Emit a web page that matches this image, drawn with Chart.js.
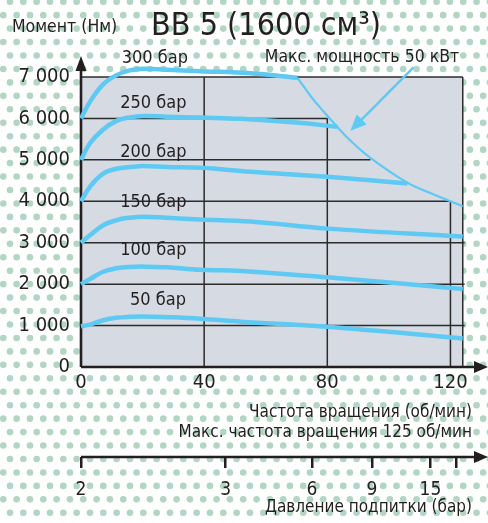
<!DOCTYPE html>
<html>
<head>
<meta charset="utf-8">
<script src="https://cdn.jsdelivr.net/npm/chart.js@4.4.1/dist/chart.umd.min.js"></script>
<style>
  html, body { margin: 0; padding: 0; background: #fff; }
  #wrap { width: 488px; height: 523px; }
</style>
</head>
<body>
<div id="wrap"><canvas id="chart"></canvas></div>
<script>
const FONT = '"Liberation Sans Narrow", "DejaVu Sans Condensed", "Roboto Condensed", Roboto, sans-serif';
const INK = '#231f20';
const CURVE = '#5ecaf3';

// torque (Nm) against speed (rpm), one pair per charge pressure
const pressureLabels = ['300 бар', '250 бар', '200 бар', '150 бар', '100 бар', '50 бар'];
const speed300 = [0, 2.9, 7.2, 11.5, 15.8, 20.2, 27.8, 38.8, 55, 70.3];
const torque300 = [6000, 6400, 6820, 7045, 7160, 7200, 7175, 7140, 7090, 6980];
const speed250 = [0, 2.9, 7.2, 11.5, 15.8, 20.2, 27.8, 38.8, 52, 70, 83.2];
const torque250 = [5000, 5400, 5733, 5942, 6025, 6058, 6042, 6020, 5990, 5900, 5800];
const speed200 = [0, 2.9, 7.2, 11.5, 15.8, 20.2, 27.8, 38.8, 55, 80, 106];
const torque200 = [4000, 4350, 4667, 4786, 4826, 4850, 4826, 4810, 4715, 4590, 4430];
const speed150 = [0, 2.9, 7.2, 11.5, 15.8, 20.2, 27.8, 38.8, 55, 80, 124];
const torque150 = [3000, 3178, 3422, 3544, 3603, 3627, 3603, 3560, 3510, 3340, 3150];
const speed100 = [0, 2.9, 7.2, 11.5, 15.8, 20.2, 27.8, 38.8, 52, 80, 124];
const torque100 = [2000, 2122, 2300, 2383, 2415, 2423, 2408, 2345, 2320, 2165, 1880];
const speed50 = [0, 2.9, 7.2, 11.5, 15.8, 20.2, 27.8, 38.8, 52, 80, 124];
const torque50 = [985, 1024, 1129, 1188, 1212, 1220, 1203, 1165, 1095, 970, 690];
// max power 50 kW
const speedLimit = [70.3, 75, 79, 83.2, 87, 94, 106, 114, 120, 124];
const torqueLimit = [6980, 6500, 6150, 5800, 5500, 5050, 4450, 4180, 4000, 3880];

const speedTicks = [0, 40, 80, 120];
const torqueTicks = [0, 1000, 2000, 3000, 4000, 5000, 6000, 7000];
const boostSpeeds = [0, 47, 75, 94.5, 113.5, 122];
const boostLabels = ['2', '3', '6', '9', '15', ''];
const SPEED_MAX = 124;

const toPoints = (xs, ys) => xs.map((v, i) => ({x: v, y: ys[i]}));

const curves = [
  toPoints(speed300, torque300),
  toPoints(speed250, torque250),
  toPoints(speed200, torque200),
  toPoints(speed150, torque150),
  toPoints(speed100, torque100),
  toPoints(speed50, torque50),
];

const datasets = curves.map((pts, i) => ({
  label: pressureLabels[i],
  data: pts,
  borderColor: CURVE,
  borderWidth: 4.5,
  pointRadius: 0,
  tension: 0.4,
  clip: false
}));
datasets.push({
  label: 'Макс. мощность 50 кВт',
  data: toPoints(speedLimit, torqueLimit),
  borderColor: CURVE,
  borderWidth: 2.2,
  pointRadius: 0,
  tension: 0.4,
  clip: false
});

function arrow(ctx, x1, y1, x2, y2, len, half) {
  const a = Math.atan2(y2 - y1, x2 - x1);
  ctx.beginPath();
  ctx.moveTo(x2, y2);
  ctx.lineTo(x2 - len * Math.cos(a) + half * Math.sin(a), y2 - len * Math.sin(a) - half * Math.cos(a));
  ctx.lineTo(x2 - len * Math.cos(a) - half * Math.sin(a), y2 - len * Math.sin(a) + half * Math.cos(a));
  ctx.closePath();
  ctx.fill();
}

const decor = {
  id: 'decor',
  beforeDraw(chart) {
    const {ctx, width, height, scales: {x, y}} = chart;
    ctx.save();
    ctx.fillStyle = '#fff';
    ctx.fillRect(0, 0, width, height);
    // dotted paper
    ctx.fillStyle = '#b3d5c3';
    for (let r = 0; ; r++) {
      const cy = 1.7 + r * 13.45;
      if (cy > height + 4) break;
      for (let cx = r % 2 ? 3.3 : 10; cx < width + 4; cx += 13.33) {
        ctx.beginPath();
        ctx.arc(cx, cy, 3.3, 0, Math.PI * 2);
        ctx.fill();
      }
    }
    const l = x.getPixelForValue(0), rr = x.getPixelForValue(SPEED_MAX);
    const t = y.getPixelForValue(7000), b = y.getPixelForValue(0);
    ctx.fillStyle = '#d5dae3';
    ctx.fillRect(l, t, rr - l, b - t);
    ctx.restore();
  },
  beforeDatasetsDraw(chart) {
    const {ctx, scales: {x, y, x2}} = chart;
    ctx.save();
    ctx.strokeStyle = '#2b2b2b';
    ctx.lineWidth = 1.5;
    // grid stops where the power limit cuts it
    const hRuns = [[1000, 124.6], [2000, 124.6], [3000, 124.6], [4000, 120], [5000, 94], [6000, 80], [7000, SPEED_MAX]];
    const vRuns = [[40, 7000], [80, 6000], [120, 4000], [SPEED_MAX, 7000]];
    hRuns.forEach(([v, end]) => {
      ctx.beginPath();
      ctx.moveTo(x.getPixelForValue(0), y.getPixelForValue(v));
      ctx.lineTo(x.getPixelForValue(end), y.getPixelForValue(v));
      ctx.stroke();
    });
    vRuns.forEach(([v, end]) => {
      ctx.beginPath();
      ctx.moveTo(x.getPixelForValue(v), y.getPixelForValue(0));
      ctx.lineTo(x.getPixelForValue(v), y.getPixelForValue(end));
      ctx.stroke();
    });
    // axes with arrows
    const l = x.getPixelForValue(0), b = y.getPixelForValue(0);
    ctx.strokeStyle = INK;
    ctx.fillStyle = INK;
    ctx.lineWidth = 2.6;
    ctx.beginPath();
    ctx.moveTo(l, b);
    ctx.lineTo(l, 66);
    ctx.moveTo(l, b);
    ctx.lineTo(478, b);
    const x2y = x2.top;
    ctx.moveTo(x2.getPixelForValue(0), x2y);
    ctx.lineTo(478, x2y);
    ctx.stroke();
    arrow(ctx, l, b, l, 56, 15, 5.5);
    arrow(ctx, l, b, 488, b, 14, 6);
    arrow(ctx, l, x2y, 488, x2y, 14, 6);
    ctx.restore();
  },
  afterDraw(chart) {
    const {ctx, scales: {x, y}} = chart;
    ctx.save();
    ctx.fillStyle = INK;
    ctx.textBaseline = 'middle';
    ctx.textAlign = 'center';
    ctx.font = `32px ${FONT}`;
    ctx.fillText('BB 5 (1600 см³)', 266, 27);
    ctx.font = `17.5px ${FONT}`;
    ctx.textAlign = 'left';
    ctx.fillText('Момент (Нм)', 12, 27);
    ctx.textAlign = 'center';
    ctx.fillText('Макс. мощность 50 кВт', 362, 57);
    // pressure labels above each curve
    const spots = [[24, 7450], [23.5, 6360], [23.5, 5170], [23.5, 3975], [23.5, 2810], [25, 1617]];
    ctx.font = `18px ${FONT}`;
    pressureLabels.forEach((txt, i) => {
      ctx.fillText(txt, x.getPixelForValue(spots[i][0]), y.getPixelForValue(spots[i][1]));
    });
    // pointer to the power curve
    const ax1 = x.getPixelForValue(108), ay1 = y.getPixelForValue(7230);
    const ax2 = x.getPixelForValue(87.5), ay2 = y.getPixelForValue(5700);
    ctx.strokeStyle = CURVE;
    ctx.fillStyle = CURVE;
    ctx.lineWidth = 2.5;
    ctx.beginPath();
    ctx.moveTo(ax1, ay1);
    const a = Math.atan2(ay2 - ay1, ax2 - ax1);
    ctx.lineTo(ax2 - 12 * Math.cos(a), ay2 - 12 * Math.sin(a));
    ctx.stroke();
    arrow(ctx, ax1, ay1, ax2, ay2, 16, 7);
    ctx.restore();
  }
};

const tickFont = {family: FONT, size: 20};
const titleFont = {family: FONT, size: 17, lineHeight: 20 / 17};

new Chart(document.getElementById('chart'), {
  type: 'line',
  data: {datasets},
  options: {
    responsive: true,
    maintainAspectRatio: false,
    animation: false,
    events: [],
    layout: {padding: {top: 77, right: 16, bottom: 0, left: 0}},
    plugins: {legend: {display: false}, tooltip: {enabled: false}},
    scales: {
      x: {
        type: 'linear',
        min: 0,
        max: 127,
        afterBuildTicks: s => { s.ticks = speedTicks.map(v => ({value: v})); },
        grid: {display: false, drawTicks: false},
        border: {display: false},
        ticks: {color: INK, font: tickFont, padding: 4, maxRotation: 0, autoSkip: false},
        title: {
          display: true,
          text: ['Частота вращения (об/мин)', 'Макс. частота вращения 125 об/мин'],
          align: 'end',
          color: INK,
          font: titleFont,
          padding: {top: 0, bottom: 14}
        },
        afterFit: s => { s.height = 90; }
      },
      x2: {
        type: 'linear',
        position: 'bottom',
        min: 0,
        max: 127,
        afterBuildTicks: s => { s.ticks = boostSpeeds.map(v => ({value: v})); },
        grid: {drawOnChartArea: false, drawTicks: true, tickLength: 11, color: INK, lineWidth: 2.5},
        border: {display: false},
        ticks: {
          color: INK,
          font: {family: FONT, size: 19},
          padding: 11,
          maxRotation: 0,
          autoSkip: false,
          callback: (v, i) => boostLabels[i]
        },
        title: {
          display: true,
          text: 'Давление подпитки (бар)',
          align: 'end',
          color: INK,
          font: titleFont,
          padding: {top: 0, bottom: 5}
        },
        afterFit: s => { s.height = 66; }
      },
      y: {
        min: 0,
        max: 7000,
        afterBuildTicks: s => { s.ticks = torqueTicks.map(v => ({value: v})); },
        grid: {display: false, drawTicks: false},
        border: {display: false},
        ticks: {
          color: INK,
          font: tickFont,
          padding: 11,
          callback: v => v === 0 ? '0' : (v / 1000) + ' 000'
        },
        afterFit: s => { s.width = 81; }
      }
    }
  },
  plugins: [decor]
});
</script>
</body>
</html>
